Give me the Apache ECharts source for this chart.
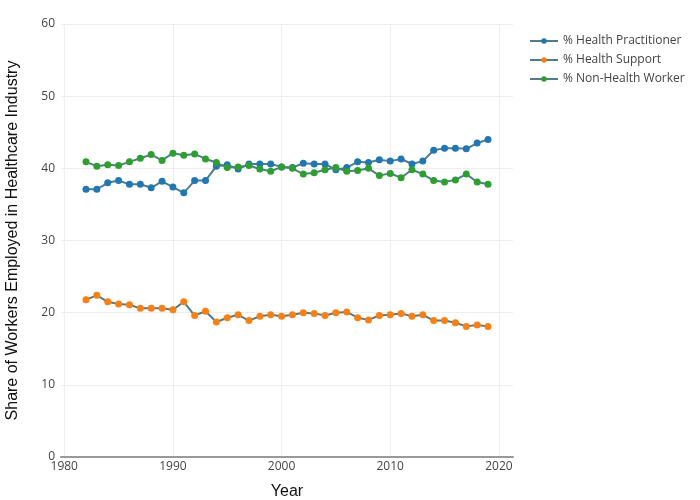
<!DOCTYPE html>
<html><head><meta charset="utf-8">
<script src="https://cdn.jsdelivr.net/npm/echarts@6/dist/echarts.min.js"></script>
<style>html,body{margin:0;padding:0;background:#fff}#c{width:700px;height:500px}</style>
</head><body><div id="c"></div>
<script>
const years = [1982,1983,1984,1985,1986,1987,1988,1989,1990,1991,1992,1993,1994,1995,1996,1997,1998,1999,2000,2001,2002,2003,2004,2005,2006,2007,2008,2009,2010,2011,2012,2013,2014,2015,2016,2017,2018,2019];
const practitioner = [37.1,37.1,38.0,38.3,37.8,37.8,37.3,38.2,37.4,36.6,38.3,38.3,40.3,40.5,39.9,40.6,40.6,40.6,40.2,40.1,40.7,40.6,40.6,39.8,40.1,40.9,40.8,41.2,41.0,41.3,40.6,41.0,42.5,42.8,42.8,42.7,43.5,44.0];
const support = [21.8,22.4,21.5,21.2,21.1,20.6,20.6,20.6,20.4,21.5,19.6,20.2,18.7,19.3,19.7,18.9,19.5,19.7,19.5,19.7,20.0,19.9,19.6,20.0,20.1,19.3,19.0,19.6,19.7,19.9,19.5,19.7,18.9,18.9,18.6,18.1,18.3,18.1];
const nonHealth = [40.9,40.3,40.5,40.4,40.9,41.4,41.9,41.1,42.1,41.8,42.0,41.3,40.8,40.1,40.2,40.4,39.9,39.6,40.2,40.0,39.2,39.4,39.8,40.1,39.6,39.7,40.0,39.0,39.3,38.7,39.8,39.2,38.3,38.1,38.4,39.2,38.1,37.8];
const xTicks = [1980,1990,2000,2010,2020];
const seriesNames = ['% Health Practitioner','% Health Support','% Non-Health Worker'];
const markerColors = ['#1f77b4','#ff7f0e','#2ca02c'];
const lineColor = '#4f7d8b';
const font = '"Open Sans", sans-serif';
const titleFont = '"Liberation Sans", Arial, sans-serif';

function mk(name, vals, col){
  return {
    name: name, type: 'line',
    data: years.map((y,i)=>[y, vals[i]]),
    symbol: 'circle', symbolSize: 7, showSymbol: true,
    lineStyle: {color: lineColor, width: 2},
    itemStyle: {color: col, borderWidth: 0},
    emphasis: {disabled: true}, animation: false
  };
}
const chart = echarts.init(document.getElementById('c'), null, {renderer:'canvas'});
chart.setOption({
  animation: false,
  textStyle: {fontFamily: font},
  grid: {left: 61, right: 187, top: 24, bottom: 43, outerBoundsMode: 'none', containLabel: false},
  legend: {
    orient: 'vertical', left: 524, top: 30, itemWidth: 28, itemHeight: 7, itemGap: 7,
    textStyle: {fontFamily: font, fontSize: 12, color: '#444'},
    data: seriesNames
  },
  xAxis: {
    type: 'value', min: 1979.7, max: 2021.3,
    name: 'Year', nameLocation: 'middle', nameGap: 27,
    nameTextStyle: {fontFamily: titleFont, fontSize: 16, color: '#111'},
    axisLine: {show: true, lineStyle: {color: '#999', width: 2}},
    axisTick: {show: false, customValues: xTicks},
    axisLabel: {customValues: xTicks, color: '#444', fontSize: 12, fontFamily: font, margin: 4, formatter: v => String(v)},
    splitLine: {show: true, lineStyle: {color: '#eee', width: 1}}
  },
  yAxis: {
    type: 'value', min: 0, max: 60, interval: 10,
    name: 'Share of Workers Employed in Healthcare Industry', nameLocation: 'middle', nameGap: 40,
    nameTextStyle: {fontFamily: titleFont, fontSize: 16, color: '#111'},
    axisLine: {show: false}, axisTick: {show: false},
    axisLabel: {color: '#444', fontSize: 12, fontFamily: font, margin: 6},
    splitLine: {show: true, lineStyle: {color: '#eee', width: 1}}
  },
  series: [mk(seriesNames[0], practitioner, markerColors[0]), mk(seriesNames[1], support, markerColors[1]), mk(seriesNames[2], nonHealth, markerColors[2])]
});
</script></body></html>
